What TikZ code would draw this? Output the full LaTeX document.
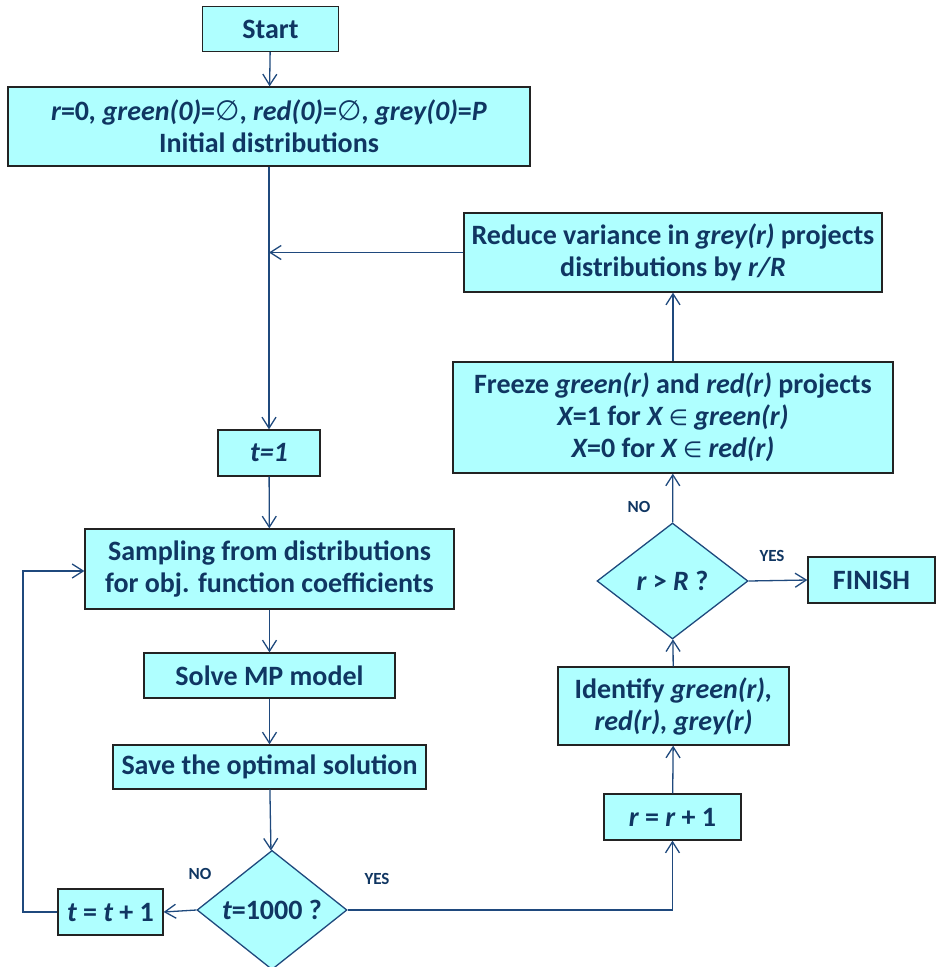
\documentclass[tikz,border=0pt]{standalone}
\usepackage{fontspec}
\setmainfont{Carlito}
\newfontfamily\symfont{DejaVu Sans}
\usetikzlibrary{shapes.geometric,arrows.meta}
\definecolor{boxfill}{RGB}{175,255,255}
\definecolor{ink}{RGB}{16,54,98}
\definecolor{wire}{RGB}{31,73,125}
\definecolor{rim}{RGB}{35,35,35}
\newcommand{\es}{{\symfont\mdseries\upshape ∅}}
\newcommand{\el}{{\symfont\mdseries\upshape\fontsize{22}{22}\selectfont ∈}}
\begin{document}
\begin{tikzpicture}[x=1pt,y=-1pt,
  every node/.style={text=ink,font=\fontsize{28}{32}\selectfont\bfseries},
  block/.style={draw=rim,line width=1.3pt,fill=boxfill,inner sep=0pt,align=center},
  decision/.style={diamond,draw=wire,line width=1.3pt,fill=boxfill,inner sep=0pt,align=center},
  tag/.style={font=\fontsize{17}{19}\selectfont\bfseries},
  link/.style={draw=wire,line width=1.3pt,-{Straight Barb[length=11pt,width=14pt,line width=1.3pt]}},
  wireline/.style={draw=wire,line width=1.3pt}]
\useasboundingbox (0,0) rectangle (936,967);

% boxes of the main loop
\node[block,minimum width=136,minimum height=45] (start) at (270.5,29) {Start};
\node[block,minimum width=522,minimum height=79] (init) at (269,126.5)
  {\itshape r\upshape=0\itshape, green(0)\upshape=\es, \itshape red(0)\upshape=\es, \itshape grey(0)\upshape=\itshape P\\Initial distributions};
\node[block,minimum width=102,minimum height=46] (t1) at (269,453) {\itshape t=1};
\node[block,minimum width=369,minimum height=80] (sampling) at (269.5,569)
  {Sampling from distributions\\for obj. function coefficients};
\node[block,minimum width=251,minimum height=45] (solve) at (269.5,675.5) {Solve MP model};
\node[block,minimum width=313,minimum height=44] (save) at (269.5,767) {Save the optimal solution};
\node[decision,minimum width=150,minimum height=116] (tcheck) at (272,910) {\itshape t\upshape=1000 ?};
\node[block,minimum width=105,minimum height=46] (tinc) at (110.5,912) {\itshape t \upshape= \itshape t \upshape+ 1};

% boxes of the outer loop
\node[block,minimum width=137,minimum height=46] (rinc) at (672.5,817) {\itshape r \upshape= \itshape r \upshape+ 1};
\node[block,minimum width=231,minimum height=78] (identify) at (673.5,706)
  {Identify \itshape green(r),\\\itshape red(r), grey(r)};
\node[decision,minimum width=151,minimum height=116] (rcheck) at (672.5,581) {\itshape r \upshape> \itshape R \upshape?};
\node[block,minimum width=127,minimum height=46] (finish) at (871.5,580) {FINISH};
\node[block,minimum width=440,minimum height=111] (freeze) at (673,417.5)
  {Freeze \itshape green(r) \upshape and \itshape red(r) \upshape projects\\
   \itshape X\upshape=1 for \itshape X \el\ green(r)\\
   \itshape X\upshape=0 for \itshape X \el\ red(r)};
\node[block,minimum width=418,minimum height=79] (reduce) at (673,252.5)
  {Reduce variance in \itshape grey(r) \upshape projects\\distributions by \itshape r/R};

% branch labels
\node[tag] (no1) at (639,507) {NO};
\node[tag] (yes1) at (772,556) {YES};
\node[tag] (no2) at (200,874) {NO};
\node[tag] (yes2) at (377,879) {YES};

% helper points for the bent connectors
\coordinate (join) at (t1.north |- reduce.west);
\coordinate (loopbot) at (23,912);
\coordinate (looptop) at (23,571);
\coordinate (turn) at (rinc.south |- tcheck.east);

% connectors
\draw[link] (start) -- (init);
\draw[wireline] (init.south) -- (join);
\draw[link] (join) -- (t1);
\draw[link] (reduce.west) -- (join);
\draw[link] (t1) -- (sampling);
\draw[link] (sampling) -- (solve);
\draw[link] (solve) -- (save);
\draw[link] (save) -- (tcheck);
\draw[link] (tcheck.west) -- (tinc.east);
\draw[link] (tinc.west) -- (loopbot) -- (looptop) -- (sampling.west |- looptop);
\draw[link] (tcheck.east) -- (turn) -- (rinc.south);
\draw[link] (rinc) -- (identify);
\draw[link] (identify) -- (rcheck);
\draw[link] (rcheck) -- (freeze);
\draw[link] (freeze) -- (reduce);
\draw[link] (rcheck.east) -- (finish.west);
\end{tikzpicture}
\end{document}
